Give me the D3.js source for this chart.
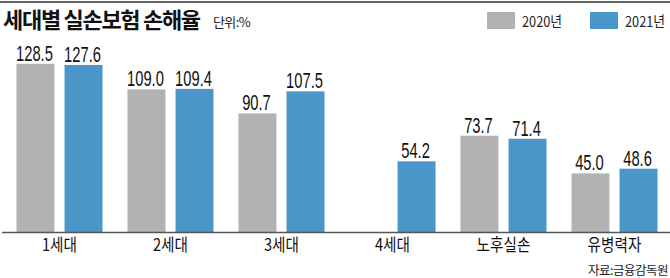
<!DOCTYPE html>
<html>
<head>
<meta charset="utf-8">
<script src="https://cdn.jsdelivr.net/npm/d3@7"></script>
<style>
  body { margin: 0; background: #fff; }
  svg { display: block; font-family: 'Noto Sans CJK KR', 'Noto Sans', sans-serif; }
  .num { font-family: 'Liberation Sans', Arial, sans-serif; }
</style>
</head>
<body>
<svg></svg>
<script>
// data
const categories = ['1세대', '2세대', '3세대', '4세대', '노후실손', '유병력자'];
const years = ['2020년', '2021년'];
const values2020 = [128.5, 109.0, 90.7, null, 73.7, 45.0];
const values2021 = [127.6, 109.4, 107.5, 54.2, 71.4, 48.6];
const colors = ['#b3b2b2', '#4a96c8'];

const width = 670,
      height = 278,
      baseY = 232.5,
      $svg = d3.select('svg')
               .attr('width', width)
               .attr('height', height);

const rows = categories.map((c, i) => ({
  cat: c,
  vals: [values2020[i], values2021[i]]
}));

const x0 = d3.scaleBand()
  .domain(categories)
  .range([4, 670])
  .paddingInner(0.225)
  .paddingOuter(0.1125);

const x1 = d3.scaleBand()
  .domain(years)
  .range([0, x0.bandwidth()])
  .paddingInner(0.21);

const y = d3.scaleLinear()
  .domain([0, 130])
  .range([baseY, baseY - 130 * 1.313]);

// top rule
$svg.append('line')
  .attr('x1', 0).attr('x2', width)
  .attr('y1', 2).attr('y2', 2)
  .attr('stroke', '#333')
  .attr('stroke-width', 1.5);

// title
$svg.append('text')
  .attr('x', 3)
  .attr('y', 28)
  .attr('font-size', 22)
  .attr('font-weight', 'bold')
  .attr('letter-spacing', -1.3)
  .attr('fill', '#111')
  .text('세대별 실손보험 손해율');

$svg.append('text')
  .attr('x', 213)
  .attr('y', 26.5)
  .attr('font-size', 13)
  .attr('letter-spacing', -0.6)
  .attr('fill', '#222')
  .text('단위:%');

// legend
const legend = $svg.selectAll('.legend')
  .data(years)
  .enter()
  .append('g')
    .classed('legend', true)
    .attr('transform', (d, i) => `translate(${487 + i * 103},12)`);

legend.append('rect')
  .attr('width', 28)
  .attr('height', 17)
  .attr('fill', (d, i) => colors[i]);

legend.append('text')
  .attr('transform', 'translate(35,15) scale(0.85,1)')
  .attr('font-size', 15)
  .attr('fill', '#222')
  .text((d) => d);

// bars
const groups = $svg.selectAll('.group')
  .data(rows)
  .enter()
  .append('g')
    .classed('group', true)
    .attr('transform', (d) => `translate(${x0(d.cat)},0)`);

const cells = groups.selectAll('.cell')
  .data((d) => d.vals.map((v, i) => ({ year: years[i], v: v, i: i })).filter((e) => e.v !== null))
  .enter();

cells.append('rect')
  .attr('x', (d) => x1(d.year))
  .attr('y', (d) => y(d.v))
  .attr('width', x1.bandwidth())
  .attr('height', (d) => baseY - y(d.v))
  .attr('fill', (d) => colors[d.i]);

cells.append('text')
  .classed('num', true)
  .attr('transform', (d) => `translate(${x1(d.year) + x1.bandwidth() / 2 - 1},${y(d.v) - 3}) scale(0.67,1)`)
  .attr('text-anchor', 'middle')
  .attr('font-size', 22)
  .attr('fill', '#111')
  .text((d) => d.v.toFixed(1));

// x axis
const xAxis = $svg.append('g')
  .attr('transform', `translate(0,${baseY})`)
  .call(d3.axisBottom(x0).tickSize(0).tickPadding(6));

xAxis.select('.domain')
  .attr('d', `M2,0H${width}`)
  .attr('stroke', '#555')
  .attr('stroke-width', 1.5);

xAxis.selectAll('text')
  .attr('font-size', 17)
  .attr('font-family', "'Noto Sans CJK KR', sans-serif")
  .attr('transform', 'scale(0.86,1)')
  .attr('fill', '#111');

// source
$svg.append('text')
  .attr('x', 668)
  .attr('y', 275)
  .attr('text-anchor', 'end')
  .attr('font-size', 12.5)
  .attr('letter-spacing', -0.5)
  .attr('fill', '#222')
  .text('자료:금융감독원');
</script>
</body>
</html>
